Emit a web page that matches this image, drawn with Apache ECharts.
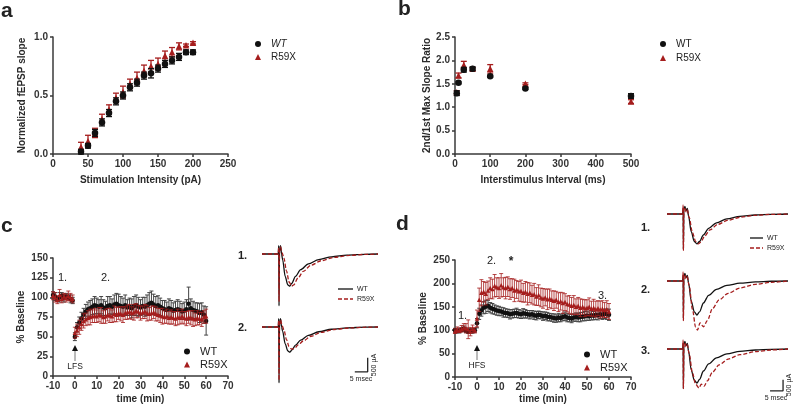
<!DOCTYPE html>
<html>
<head>
<meta charset="utf-8">
<script src="https://cdn.jsdelivr.net/npm/echarts@6/dist/echarts.min.js"></script>
<style>html,body{margin:0;padding:0;background:#fff;}#c{width:796px;height:407px;}</style>
</head>
<body>
<div id="c"></div>
<script>
// ---------- Panel a ----------
const aX = [40,50,60,70,80,90,100,110,120,130,140,150,160,170,180,190,200];
const aWT = [0.02,0.07,0.18,0.27,0.35,0.45,0.50,0.57,0.61,0.67,0.69,0.73,0.77,0.80,0.83,0.87,0.87];
const aWTerr = [0.02,0.02,0.03,0.03,0.03,0.03,0.03,0.03,0.03,0.03,0.04,0.03,0.03,0.03,0.03,0.02,0.02];
const aR59X = [0.06,0.11,0.18,0.30,0.38,0.48,0.53,0.60,0.65,0.71,0.75,0.77,0.84,0.87,0.92,0.93,0.95];
const aR59Xerr = [0.04,0.05,0.04,0.04,0.04,0.04,0.05,0.04,0.05,0.05,0.05,0.05,0.04,0.04,0.03,0.01,0.01];
// ---------- Panel b ----------
const bX = [5,10,25,50,100,200,500];
const bWT = [1.30,1.52,1.80,1.82,1.66,1.40,1.24];
const bWTerr = [0.05,0.02,0.05,0.04,0.02,0.02,0.05];
const bR59X = [1.32,1.68,1.90,1.82,1.82,1.50,1.12];
const bR59Xerr = [0.03,0.05,0.08,0.03,0.09,0.02,0.04];
// ---------- Panels c, d time axis ----------
const tMin = [-10,-9,-8,-7,-6,-5,-4,-3,-2,-1,0,1,2,3,4,5,6,7,8,9,10,11,12,13,14,15,16,17,18,19,20,21,22,23,24,25,26,27,28,29,30,31,32,33,34,35,36,37,38,39,40,41,42,43,44,45,46,47,48,49,50,51,52,53,54,55,56,57,58,59,60];
const cWT = [103,101,98,100,102,99,101,100,98,96,
 50,62,68,73,78,82,85,86,88,90,89,88,90,87,86,89,90,88,91,92,90,89,88,90,87,88,86,89,90,88,87,89,88,90,92,93,91,89,90,88,86,85,84,86,85,83,84,85,84,82,83,85,92,86,84,83,82,80,81,78,70];
const cWTerr = [4,5,3,6,4,5,4,3,5,4,
 5,6,7,8,8,9,9,10,10,11,10,9,11,10,9,12,11,10,12,13,14,12,11,13,10,11,12,12,13,12,10,11,12,13,14,15,13,12,12,11,10,11,10,12,11,10,11,12,11,10,11,12,21,12,11,10,11,12,12,11,18];
const cR59X = [102,100,97,103,98,101,99,102,100,98,
 55,58,62,66,70,72,74,75,76,77,76,78,77,75,76,78,77,76,79,78,80,79,78,80,81,82,80,81,83,82,80,81,82,80,79,80,81,79,78,77,76,75,76,74,75,74,73,75,74,76,74,73,75,74,73,72,74,73,72,75,76];
const cR59Xerr = [5,6,5,7,5,4,5,6,5,5,
 7,8,9,8,9,8,9,10,8,9,8,9,10,8,9,8,9,8,10,9,8,9,10,8,9,9,8,10,9,8,9,8,9,10,8,9,8,9,8,9,10,8,9,8,9,8,9,10,8,9,8,9,8,9,10,8,9,8,9,8,9];
const dWT = [100,98,99,101,103,100,97,99,98,100,
 115,135,142,148,150,152,148,146,144,142,141,140,138,137,136,134,135,136,137,135,134,136,135,134,133,134,132,131,133,132,130,131,129,128,127,126,125,127,126,128,130,127,126,125,127,128,127,128,129,130,131,130,132,131,133,132,134,133,135,134,133];
const dWTerr = [4,3,5,4,6,5,4,5,4,4,
 10,12,12,13,14,12,11,11,10,10,10,9,10,9,9,10,9,9,10,9,9,10,9,8,9,8,9,9,8,8,9,8,9,8,8,9,8,9,8,8,9,9,8,9,8,9,9,10,9,10,10,9,10,9,10,10,9,10,10,11,12];
const dR59X = [98,101,100,103,106,104,102,97,103,100,
 125,165,180,182,178,185,190,188,195,192,190,196,192,190,193,188,190,185,187,183,184,180,182,178,180,176,177,172,175,170,168,170,166,168,165,163,165,160,162,158,160,156,155,152,154,150,152,148,150,147,148,150,146,148,145,147,144,146,143,145,140];
const dR59Xerr = [5,6,5,7,8,10,20,9,8,6,
 18,25,28,22,24,20,22,21,24,20,22,25,20,23,21,22,20,24,19,21,23,20,22,24,21,20,23,19,22,20,21,18,22,20,19,21,18,20,19,22,18,17,19,18,20,17,18,19,16,18,17,19,16,18,17,16,18,17,16,18,17];
// ---------- Field potential traces (t in ms, amplitude in µA) ----------
const cTr1WT = [[0,0],[6.3,0],[6.5,300],[6.6,-1850],[6.8,100],[7.2,300],[7.6,0],[8,-200],[9,-800],[10,-1100],[10.8,-1150],[11.5,-1050],[13,-800],[15,-560],[18,-350],[22,-200],[27,-100],[33,-40],[40,-10],[45,0]];
const cTr1R59X = [[0,0],[6.3,0],[6.5,250],[6.6,-1700],[6.8,100],[7.2,250],[7.8,50],[8.5,-150],[9.5,-600],[10.5,-1000],[11.5,-1150],[12.3,-1100],[14,-850],[16,-620],[19,-400],[23,-240],[28,-120],[34,-50],[40,-15],[45,0]];
const cTr2WT = [[0,0],[6.3,0],[6.5,300],[6.6,-2000],[6.8,100],[7.2,300],[7.6,0],[8,-150],[9,-600],[10,-850],[10.8,-900],[11.6,-820],[13,-650],[15,-470],[18,-300],[22,-170],[27,-80],[33,-30],[40,-5],[45,0]];
const cTr2R59X = [[0,0],[6.3,0],[6.5,250],[6.6,-1900],[6.8,100],[7.2,250],[7.8,50],[8.5,-100],[9.5,-450],[10.5,-700],[11.5,-790],[12.5,-770],[14,-640],[16,-500],[19,-330],[23,-190],[28,-90],[34,-35],[40,-8],[45,0]];
const dTr1WT = [[0,0],[6.0,0],[6.2,250],[6.3,-1600],[6.5,200],[6.9,350],[7.3,150],[7.8,250],[8.3,-100],[9.3,-800],[10.5,-1250],[11.5,-1360],[12.5,-1250],[14,-950],[16,-650],[19,-400],[23,-220],[28,-110],[34,-45],[40,-15],[46.5,0]];
const dTr1R59X = [[0,0],[6.0,0],[6.2,400],[6.3,-1650],[6.5,250],[6.9,300],[7.3,100],[7.8,200],[8.5,-150],[9.8,-850],[11,-1250],[12,-1360],[13,-1280],[14.5,-1000],[16.5,-720],[19.5,-470],[23.5,-280],[28.5,-140],[34,-60],[40,-20],[46.5,0]];
const dTr2WT = [[0,0],[6.0,0],[6.2,250],[6.3,-1700],[6.5,200],[6.9,350],[7.3,150],[7.8,250],[8.3,-100],[9.3,-900],[10.5,-1400],[11.5,-1545],[12.5,-1400],[14,-1000],[16,-650],[19,-380],[23,-200],[28,-100],[34,-40],[40,-12],[46.5,0]];
const dTr2R59X = [[0,0],[6.0,0],[6.2,400],[6.3,-1800],[6.5,250],[6.9,300],[7.3,100],[7.8,200],[8.5,-200],[9.8,-1300],[11,-2100],[11.7,-2230],[12.7,-1900],[14,-2080],[15.5,-1800],[17.5,-1250],[20,-860],[23.5,-560],[28,-320],[34,-150],[40,-60],[46.5,0]];
const dTr3WT = [[0,0],[6.0,0],[6.2,250],[6.3,-1800],[6.5,200],[6.9,350],[7.3,150],[7.8,250],[8.3,-100],[9.3,-950],[10.5,-1420],[11.5,-1545],[12.5,-1380],[14,-1000],[16,-680],[19,-400],[23,-220],[28,-110],[34,-45],[40,-15],[46.5,0]];
const dTr3R59X = [[0,0],[6.0,0],[6.2,400],[6.3,-1800],[6.5,250],[6.9,300],[7.3,100],[7.8,200],[8.5,-200],[9.8,-1100],[11,-1600],[12.3,-1770],[13.2,-1600],[14.2,-1700],[15.5,-1450],[17.5,-1050],[20,-720],[23.5,-460],[28,-260],[34,-120],[40,-45],[46.5,0]];
const cScaleBar = [[41,-1100],[41,-1600],[36,-1600]];
const dScaleBar = [[44.6,-1400],[44.6,-1900],[39.6,-1900]];

const FONT = 'Liberation Sans, Arial, Helvetica, sans-serif';
const RED = '#a51d1d';
const BLK = '#111111';
const AXC = '#3a3a3a';

function xAx(gi, min, max, interval, name, gap) {
  return {type:'value', gridIndex:gi, min, max, interval, name, nameLocation:'middle', nameGap:gap,
    nameTextStyle:{fontSize:10, fontWeight:'bold', color:'#2a2a2a', fontFamily:FONT},
    axisLine:{show:true, onZero:false, lineStyle:{color:AXC, width:1.5}},
    axisTick:{show:true, length:3, lineStyle:{color:AXC, width:1.5}},
    axisLabel:{fontSize:10, color:'#333', fontWeight:'bold', fontFamily:FONT, margin:5},
    splitLine:{show:false}};
}
function yAx(gi, min, max, interval, name, gap, dec) {
  return {type:'value', gridIndex:gi, min, max, interval, name, nameLocation:'middle', nameGap:gap,
    nameTextStyle:{fontSize:10, fontWeight:'bold', color:'#2a2a2a', fontFamily:FONT},
    axisLine:{show:true, onZero:false, lineStyle:{color:AXC, width:1.5}},
    axisTick:{show:true, length:3, lineStyle:{color:AXC, width:1.5}},
    axisLabel:{fontSize:10, color:'#333', fontWeight:'bold', fontFamily:FONT, margin:5,
      formatter: v => dec ? v.toFixed(1) : String(v)},
    splitLine:{show:false}};
}
function hidAx(gi, min, max) { return {type:'value', gridIndex:gi, min, max, show:false, splitLine:{show:false}}; }

function errSeries(name, ai, xs, ys, es, color, cap, lw, z) {
  return {type:'custom', name, xAxisIndex:ai, yAxisIndex:ai, z, silent:true,
    data: xs.map((x,i)=>[x, ys[i]-es[i], ys[i]+es[i]]),
    encode:{x:0, y:[1,2]},
    renderItem:(params, api) => {
      const x = api.value(0);
      const p1 = api.coord([x, api.value(1)]);
      const p2 = api.coord([x, api.value(2)]);
      const st = {stroke:color, lineWidth:lw};
      return {type:'group', children:[
        {type:'line', shape:{x1:p1[0], y1:p1[1], x2:p2[0], y2:p2[1]}, style:st},
        {type:'line', shape:{x1:p1[0]-cap, y1:p1[1], x2:p1[0]+cap, y2:p1[1]}, style:st},
        {type:'line', shape:{x1:p2[0]-cap, y1:p2[1], x2:p2[0]+cap, y2:p2[1]}, style:st}
      ]};
    }};
}
function scat(name, ai, xs, ys, symbol, size, color, z) {
  return {type:'scatter', name, xAxisIndex:ai, yAxisIndex:ai, z, silent:true,
    symbol, symbolSize:size, itemStyle:{color, opacity:1},
    data: xs.map((x,i)=>[x, ys[i]])};
}
function trace(name, ai, pts, color, dashed, z) {
  return {type:'line', name, xAxisIndex:ai, yAxisIndex:ai, data:pts, showSymbol:false, silent:true, z,
    smooth:0.3, smoothMonotone:'x',
    lineStyle:{color, width:1.3, type: dashed ? [4,2] : 'solid'}};
}

const series = [
  // a
  errSeries('eaR', 0, aX, aR59X, aR59Xerr, RED, 3, 1.3, 2),
  scat('R59X', 0, aX, aR59X, 'triangle', 6.5, RED, 3),
  errSeries('eaW', 0, aX, aWT, aWTerr, BLK, 3, 1.3, 4),
  scat('WT', 0, aX, aWT, 'circle', 6.5, BLK, 5),
  // b
  errSeries('ebR', 1, bX, bR59X, bR59Xerr, RED, 3, 1.3, 2),
  scat('R59X', 1, bX, bR59X, 'triangle', 6.5, RED, 3),
  errSeries('ebW', 1, bX, bWT, bWTerr, BLK, 3, 1.3, 4),
  scat('WT', 1, bX, bWT, 'circle', 6.5, BLK, 5),
  // c
  errSeries('ecW', 2, tMin, cWT, cWTerr, '#444', 2, 1, 2),
  scat('WT', 2, tMin, cWT, 'circle', 4.5, BLK, 3),
  errSeries('ecR', 2, tMin, cR59X, cR59Xerr, 'rgba(165,29,29,0.8)', 2, 1, 4),
  scat('R59X', 2, tMin, cR59X, 'triangle', 4.5, RED, 5),
  // d
  errSeries('edW', 3, tMin, dWT, dWTerr, '#444', 2, 1, 2),
  scat('WT', 3, tMin, dWT, 'circle', 4.5, BLK, 3),
  errSeries('edR', 3, tMin, dR59X, dR59Xerr, 'rgba(165,29,29,0.8)', 2, 1, 4),
  scat('R59X', 3, tMin, dR59X, 'triangle', 4.5, RED, 5),
  // traces c
  trace('tcW1', 4, cTr1WT, BLK, false, 3),
  trace('tcR1', 4, cTr1R59X, RED, true, 4),
  trace('tcW2', 5, cTr2WT, BLK, false, 3),
  trace('tcR2', 5, cTr2R59X, RED, true, 4),
  {type:'line', name:'scaleC', xAxisIndex:5, yAxisIndex:5, data:cScaleBar, showSymbol:false, silent:true, lineStyle:{color:'#222', width:1.3}},
  // traces d
  trace('tdW1', 6, dTr1WT, BLK, false, 3),
  trace('tdR1', 6, dTr1R59X, RED, true, 4),
  trace('tdW2', 7, dTr2WT, BLK, false, 3),
  trace('tdR2', 7, dTr2R59X, RED, true, 4),
  trace('tdW3', 8, dTr3WT, BLK, false, 3),
  trace('tdR3', 8, dTr3R59X, RED, true, 4),
  {type:'line', name:'scaleD', xAxisIndex:8, yAxisIndex:8, data:dScaleBar, showSymbol:false, silent:true, lineStyle:{color:'#222', width:1.3}}
];

function lg(left, top, fs, italicWT, gap) {
  return {left, top, orient:'vertical', padding:0, itemGap:gap, itemWidth:6, itemHeight:6, selectedMode:false,
    textStyle:{fontSize:fs, color:'#222', fontFamily:FONT, padding:[0,0,0,5]},
    data:[{name:'WT', icon:'circle', textStyle: italicWT ? {fontStyle:'italic'} : {}}, {name:'R59X', icon:'triangle'}]};
}

function txt(x, y, s, size, weight, align, extra) {
  return Object.assign({type:'text', x, y, silent:true, style:{text:s, fontSize:size, fontWeight:weight||'normal', fontFamily:FONT, fill:'#222', textAlign:align||'left', textVerticalAlign:'middle'}}, extra||{});
}
function arrow(x, yTip, yEnd) {
  return [
    {type:'line', silent:true, shape:{x1:x, y1:yTip+4, x2:x, y2:yEnd}, style:{stroke:'#777', lineWidth:1}},
    {type:'polygon', silent:true, shape:{points:[[x, yTip],[x-3, yTip+6],[x+3, yTip+6]]}, style:{fill:'#111'}}
  ];
}

const graphic = [
  txt(1, 11, 'a', 21, 'bold'),
  txt(398, 9, 'b', 21, 'bold'),
  txt(1, 226, 'c', 21, 'bold'),
  txt(396, 224, 'd', 21, 'bold'),
  // c annotations
  txt(58, 278, '1.', 11),
  txt(101, 278, '2.', 11),
  ...arrow(75, 345, 361),
  txt(75, 367, 'LFS', 8.5, 'normal', 'center'),
  // d annotations
  txt(458, 316, '1.', 11),
  txt(487, 261, '2.', 11),
  txt(511, 262, '*', 12, 'bold', 'center'),
  txt(598, 296, '3.', 11),
  ...arrow(477, 345, 360),
  txt(477, 366, 'HFS', 8.5, 'normal', 'center'),
  // c trace labels / legend / scale
  txt(238, 256, '1.', 11, 'bold'),
  txt(238, 328, '2.', 11, 'bold'),
  {type:'line', silent:true, shape:{x1:338, y1:289, x2:353, y2:289}, style:{stroke:BLK, lineWidth:1.3}},
  {type:'line', silent:true, shape:{x1:338, y1:299, x2:353, y2:299}, style:{stroke:RED, lineWidth:1.3, lineDash:[4,2]}},
  txt(357, 289, 'WT', 7),
  txt(357, 299, 'R59X', 7),
  txt(361, 379, '5 msec', 7, 'normal', 'center'),
  txt(374, 365, '500 µA', 7, 'normal', 'center', {rotation:Math.PI/2}),
  // d trace labels / legend / scale
  txt(641, 228, '1.', 11, 'bold'),
  txt(641, 290, '2.', 11, 'bold'),
  txt(641, 351, '3.', 11, 'bold'),
  {type:'line', silent:true, shape:{x1:750, y1:238, x2:763, y2:238}, style:{stroke:BLK, lineWidth:1.3}},
  {type:'line', silent:true, shape:{x1:750, y1:248, x2:763, y2:248}, style:{stroke:RED, lineWidth:1.3, lineDash:[4,2]}},
  txt(767, 238, 'WT', 7),
  txt(767, 248, 'R59X', 7),
  txt(776, 398, '5 msec', 7, 'normal', 'center'),
  txt(789, 385, '500 µA', 7, 'normal', 'center', {rotation:Math.PI/2})
];

const option = {
  animation:false,
  backgroundColor:'#fff',
  textStyle:{fontFamily:FONT},
  grid:[
    {left:53, top:37, width:175, height:117},
    {left:455, top:37, width:176, height:117},
    {left:53, top:258, width:175, height:118},
    {left:455, top:260, width:176, height:117},
    {left:262, top:240, width:116, height:70},
    {left:262, top:313, width:116, height:70},
    {left:667, top:203, width:121, height:66},
    {left:667, top:270, width:121, height:66},
    {left:667, top:338, width:121, height:66}
  ],
  xAxis:[
    xAx(0, 0, 250, 50, 'Stimulation Intensity (pA)', 21),
    xAx(1, 0, 500, 100, 'Interstimulus Interval (ms)', 21),
    xAx(2, -10, 70, 10, 'time (min)', 18),
    xAx(3, -10, 70, 10, 'time (min)', 17),
    hidAx(4, 0, 45), hidAx(5, 0, 45),
    hidAx(6, 0, 46.5), hidAx(7, 0, 46.5), hidAx(8, 0, 46.5)
  ],
  yAxis:[
    yAx(0, 0, 1, 0.5, 'Normalized fEPSP slope', 26, true),
    yAx(1, 0, 2.5, 0.5, '2nd/1st Max Slope Ratio', 23, true),
    yAx(2, 0, 150, 25, '% Baseline', 27, false),
    yAx(3, 0, 250, 50, '% Baseline', 27, false),
    hidAx(4, -2000, 500), hidAx(5, -2000, 500),
    hidAx(6, -2500, 500), hidAx(7, -2500, 500), hidAx(8, -2500, 500)
  ],
  legend:[
    lg(255, 39, 10, true, 3),
    lg(660, 39, 10, false, 4),
    lg(184, 346, 11, false, 2),
    lg(584, 349, 11, false, 2)
  ],
  graphic,
  series
};
const chart = echarts.init(document.getElementById('c'), null, {renderer:'canvas'});
chart.setOption(option);
</script>
</body>
</html>
